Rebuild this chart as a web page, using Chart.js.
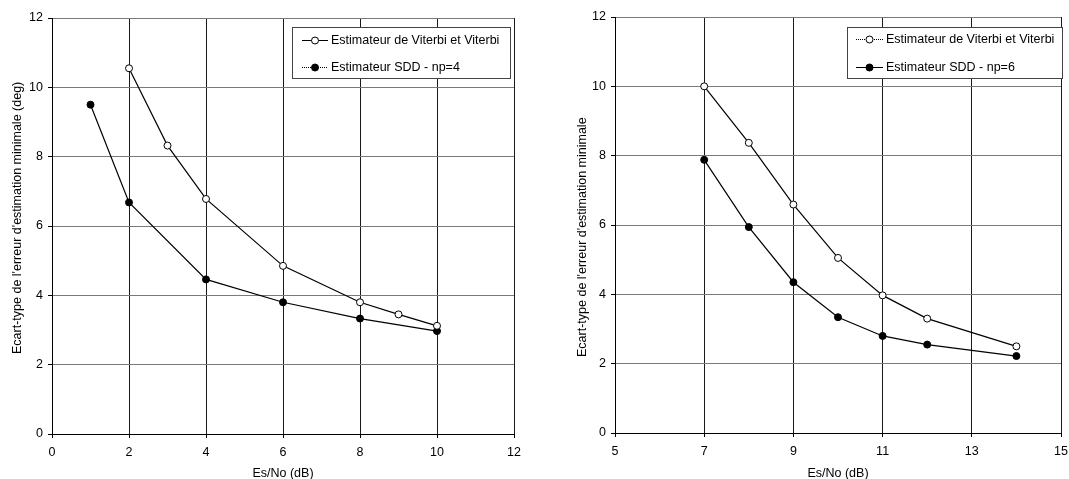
<!DOCTYPE html>
<html>
<head>
<meta charset="utf-8">
<script src="https://cdn.jsdelivr.net/npm/chart.js@4.4.1/dist/chart.umd.min.js"></script>
<style>
    html, body { margin: 0; padding: 0; background: #fff; overflow: hidden; }
    .panel { position: absolute; top: 0; height: 479px; }
    #leftPanel { left: 0; width: 540px; }
    #rightPanel { left: 560px; width: 525px; }
</style>
</head>
<body>
<div class="panel" id="leftPanel"><canvas id="leftChart"></canvas></div>
<div class="panel" id="rightPanel"><canvas id="rightChart"></canvas></div>
<script>
// left panel (np=4)
const leftViterbiX = [2, 3, 4, 6, 8, 9, 10];
const leftViterbiY = [10.55, 8.32, 6.78, 4.85, 3.8, 3.45, 3.12];
const leftSddX = [1, 2, 4, 6, 8, 10];
const leftSddY = [9.5, 6.68, 4.46, 3.8, 3.33, 2.97];

// right panel (np=6)
const rightViterbiX = [7, 8, 9, 10, 11, 12, 14];
const rightViterbiY = [10.0, 8.37, 6.59, 5.05, 3.97, 3.3, 2.5];
const rightSddX = [7, 8, 9, 10, 11, 12, 14];
const rightSddY = [7.88, 5.94, 4.35, 3.34, 2.8, 2.55, 2.22];

const leftLabels = ["Estimateur de Viterbi et Viterbi", "Estimateur SDD - np=4"];
const rightLabels = ["Estimateur de Viterbi et Viterbi", "Estimateur SDD - np=6"];
const xTitle = "Es/No (dB)";
const leftYTitle = "Ecart-type de l'erreur d'estimation minimale (deg)";
const rightYTitle = "Ecart-type de l'erreur d'estimation minimale";
const leftXRange = [0, 12];
const rightXRange = [5, 15];
const yRange = [0, 12];
const tickStep = 2;

const FONT = { family: "'Liberation Sans', Arial, sans-serif", size: 12.5 };

function toPoints(xs, ys) {
    return xs.map((x, i) => ({ x: x, y: ys[i] }));
}

function series(label, xs, ys, filled, legendDash) {
    return {
        label: label,
        data: toPoints(xs, ys),
        borderColor: "#000",
        borderWidth: 1.2,
        pointRadius: 3.5,
        pointBorderWidth: 1,
        pointBorderColor: "#000",
        pointBackgroundColor: filled ? "#000" : "#fff",
        pointStyle: "circle",
        tension: 0,
        fill: false,
        legendDash: legendDash
    };
}

// Excel style legend box with line + marker samples
const boxLegend = {
    id: "boxLegend",
    afterDraw(chart, args, opts) {
        const ctx = chart.ctx;
        ctx.save();
        ctx.fillStyle = "#fff";
        ctx.fillRect(opts.x, opts.y, opts.w, opts.h);
        ctx.strokeStyle = "#444";
        ctx.lineWidth = 1;
        ctx.strokeRect(opts.x + 0.5, opts.y + 0.5, opts.w, opts.h);
        chart.data.datasets.forEach((ds, i) => {
            const cy = opts.y + opts.rows[i];
            const x0 = opts.x + opts.lineStart;
            const x1 = x0 + opts.lineLen;
            ctx.strokeStyle = "#000";
            ctx.lineWidth = 1;
            ctx.setLineDash(ds.legendDash || []);
            ctx.beginPath();
            ctx.moveTo(x0, cy + 0.5);
            ctx.lineTo(x1, cy + 0.5);
            ctx.stroke();
            ctx.setLineDash([]);
            ctx.beginPath();
            ctx.arc((x0 + x1) / 2, cy + 0.5, 3.5, 0, Math.PI * 2);
            ctx.fillStyle = ds.pointBackgroundColor;
            ctx.fill();
            ctx.stroke();
            ctx.fillStyle = "#000";
            ctx.font = FONT.size + "px " + FONT.family;
            ctx.textBaseline = "middle";
            ctx.textAlign = "left";
            ctx.fillText(ds.label, x1 + 3, cy + 1);
        });
        ctx.restore();
    }
};

// rotated y title, anchored at its start like the original
const sideTitle = {
    id: "sideTitle",
    afterDraw(chart, args, opts) {
        const ctx = chart.ctx;
        ctx.save();
        ctx.translate(opts.x, opts.y);
        ctx.rotate(-Math.PI / 2);
        ctx.fillStyle = "#000";
        ctx.font = FONT.size + "px " + FONT.family;
        ctx.textBaseline = "middle";
        ctx.textAlign = "left";
        ctx.fillText(opts.text, 0, 0);
        ctx.restore();
    }
};

function makeOptions(xRange, yWidth, xHeight, pad, legendPos, titlePos) {
    return {
        responsive: true,
        maintainAspectRatio: false,
        animation: false,
        layout: { padding: pad },
        plugins: {
            legend: { display: false },
            tooltip: { enabled: false },
            boxLegend: legendPos,
            sideTitle: titlePos
        },
        scales: {
            x: {
                type: "linear",
                min: xRange[0],
                max: xRange[1],
                ticks: { stepSize: tickStep, color: "#000", font: FONT, padding: 7, maxRotation: 0 },
                grid: { color: "#1a1a1a", lineWidth: 1, tickLength: 4, tickColor: "#000" },
                border: { color: "#000", width: 1 },
                title: { display: true, text: xTitle, color: "#000", font: FONT, padding: { top: 0, bottom: -2 } },
                afterFit: s => { s.height = xHeight; }
            },
            y: {
                min: yRange[0],
                max: yRange[1],
                ticks: { stepSize: tickStep, color: "#000", font: FONT, padding: 5 },
                grid: { color: "#7a7a7a", lineWidth: 1, tickLength: 4, tickColor: "#000" },
                border: { color: "#000", width: 1 },
                afterFit: s => { s.width = yWidth; }
            }
        }
    };
}

document.addEventListener("DOMContentLoaded", function () {
    const leftEl = document.getElementById("leftChart");
    new Chart(leftEl.getContext("2d"), {
        type: "line",
        data: {
            datasets: [
                series(leftLabels[0], leftViterbiX, leftViterbiY, false, []),
                series(leftLabels[1], leftSddX, leftSddY, true, [1, 1])
            ]
        },
        options: makeOptions(leftXRange, 52, 45, { top: 18, right: 26, left: 0, bottom: 0 },
            { x: 292, y: 27, w: 218, h: 51, rows: [13, 40], lineStart: 10, lineLen: 26 },
            { x: 18, y: 354, text: leftYTitle }),
        plugins: [boxLegend, sideTitle]
    });

    const rightEl = document.getElementById("rightChart");
    new Chart(rightEl.getContext("2d"), {
        type: "line",
        data: {
            datasets: [
                series(rightLabels[0], rightViterbiX, rightViterbiY, false, [1, 1]),
                series(rightLabels[1], rightSddX, rightSddY, true, [])
            ]
        },
        options: makeOptions(rightXRange, 55, 46, { top: 17, right: 24, left: 0, bottom: 0 },
            { x: 287, y: 27, w: 215, h: 51, rows: [12, 40], lineStart: 9, lineLen: 27 },
            { x: 23, y: 357, text: rightYTitle }),
        plugins: [boxLegend, sideTitle]
    });
});
</script>
</body>
</html>
